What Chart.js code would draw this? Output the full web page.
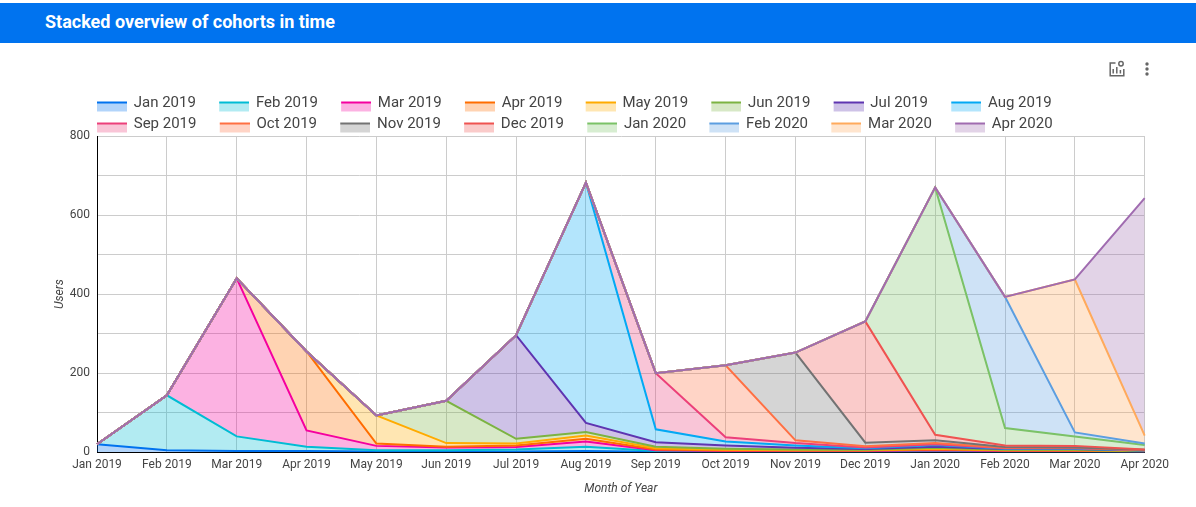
<!DOCTYPE html>
<html>
<head>
<meta charset="utf-8">
<style>
html,body{margin:0;padding:0;background:#fff;width:1196px;height:507px;overflow:hidden;font-family:Roboto,sans-serif}
#head{position:absolute;left:0;top:3px;width:1196px;height:40px;background:#0073ef;color:#fff;font:700 18px/38px Roboto,sans-serif;box-sizing:border-box;padding-left:45px}
#wrap{position:absolute;left:0;top:0;width:1175px;height:507px}
#icons{position:absolute;left:1108px;top:60px;z-index:2}
</style>
<script src="https://cdn.jsdelivr.net/npm/chart.js@4"></script>
</head>
<body>
<div id="head">Stacked overview of cohorts in time</div>
<svg id="icons" width="46" height="18" viewBox="0 0 46 18">
  <path d="M7.5 3H2.2v12.8h13.6V9" fill="none" stroke="#666" stroke-width="1.5"/>
  <path d="M5.2 9v4.5M8.8 7v6.5M12.4 10v3.5" stroke="#666" stroke-width="1.5"/>
  <circle cx="13" cy="3.8" r="2.2" fill="none" stroke="#666" stroke-width="1.5"/>
  <circle cx="39" cy="4" r="1.7" fill="#666"/><circle cx="39" cy="9" r="1.7" fill="#666"/><circle cx="39" cy="14" r="1.7" fill="#666"/>
</svg>
<div id="wrap"><canvas id="c"></canvas></div>
<script>
const months = ["Jan 2019","Feb 2019","Mar 2019","Apr 2019","May 2019","Jun 2019","Jul 2019","Aug 2019","Sep 2019","Oct 2019","Nov 2019","Dec 2019","Jan 2020","Feb 2020","Mar 2020","Apr 2020"];
const jan2019 = [20,5,3,3,2,2,2,3,1,1,1,1,2,1,1,0];
const feb2019 = [0,139,37,11,3,3,5,11,2,1,1,1,1,1,1,1];
const mar2019 = [0,0,400,41,11,7,6,13,2,1,1,1,2,1,1,1];
const apr2019 = [0,0,0,200,6,2,4,7,2,1,1,1,2,1,1,0];
const may2019 = [0,0,0,0,71,9,5,8,3,2,1,1,2,1,1,1];
const jun2019 = [0,0,0,0,0,107,12,9,4,3,2,1,2,1,1,0];
const jul2019 = [0,0,0,0,0,0,262,23,11,8,4,2,3,2,2,1];
const aug2019 = [0,0,0,0,0,0,0,608,33,10,6,2,4,1,1,0];
const sep2019 = [0,0,0,0,0,0,0,0,142,11,6,2,2,1,1,1];
const oct2019 = [0,0,0,0,0,0,0,0,0,182,7,3,3,1,1,0];
const nov2019 = [0,0,0,0,0,0,0,0,0,0,222,9,7,2,1,1];
const dec2019 = [0,0,0,0,0,0,0,0,0,0,0,307,14,4,4,1];
const jan2020 = [0,0,0,0,0,0,0,0,0,0,0,0,626,44,24,11];
const feb2020 = [0,0,0,0,0,0,0,0,0,0,0,0,0,332,10,4];
const mar2020 = [0,0,0,0,0,0,0,0,0,0,0,0,0,0,387,20];
const apr2020 = [0,0,0,0,0,0,0,0,0,0,0,0,0,0,0,601];
const seriesValues = [jan2019,feb2019,mar2019,apr2019,may2019,jun2019,jul2019,aug2019,sep2019,oct2019,nov2019,dec2019,jan2020,feb2020,mar2020,apr2020];
const colors = ["#0072ef","#00bcd4","#f5009f","#ff6d00","#ffab00","#7cb342","#5e35b1","#03a9f4","#ec407a","#ff7043","#737373","#ef5350","#7bc267","#5c9ee0","#ffaa5c","#a06cb0"];

function alpha(hex,a){const n=parseInt(hex.slice(1),16);return `rgba(${n>>16},${(n>>8)&255},${n&255},${a})`;}
function swatch(col){
  const cv=document.createElement('canvas');cv.width=48;cv.height=20;
  const g=cv.getContext('2d');
  g.fillStyle=alpha(col,.3);g.fillRect(18,8,30,10);
  g.fillStyle=col;g.fillRect(18,8,30,2);
  return cv;
}
const drawOrder={
  id:'drawOrder',
  afterLayout(chart){
    const l=chart.legend;const w=l.right-l.left;
    l.left=73.75;l.right=73.75+w;l.top=90;
  },
  beforeDatasetsDraw(chart){
    const metas=chart.getSortedVisibleDatasetMetas();
    for(const m of metas) chart._drawDataset(m);
    return false;
  }
};
new Chart(document.getElementById('c'),{
  type:'line',
  data:{labels:months,datasets:seriesValues.map((v,i)=>({
    label:months[i],data:v,borderColor:colors[i],backgroundColor:alpha(colors[i],.3),
    borderWidth:2,pointRadius:0,tension:0,fill:i===0?'origin':'-1',borderJoinStyle:'miter'
  }))},
  plugins:[drawOrder],
  options:{
    responsive:true,maintainAspectRatio:false,animation:false,
    layout:{padding:{left:53,top:84,right:0,bottom:11}},
    plugins:{
      filler:{drawTime:'beforeDatasetsDraw'},
      tooltip:{enabled:false},
      legend:{
        position:'top',align:'start',fullSize:false,
        labels:{
          font:{family:'Roboto',size:15},color:'#444',padding:6,usePointStyle:true,pointStyleWidth:46.5,boxHeight:12,
          generateLabels(chart){return chart.data.datasets.map((d,i)=>({text:d.label,pointStyle:swatch(colors[i]),datasetIndex:i,fontColor:'#444',lineWidth:0,strokeStyle:'transparent',fillStyle:'transparent'}));}
        }
      }
    },
    scales:{
      x:{
        type:'category',offset:false,
        grid:{color:'#ccc',lineWidth:1,drawTicks:false},
        border:{color:'#000',width:1},
        ticks:{font:{family:'Roboto',size:12},color:'#444',maxRotation:0,minRotation:0,autoSkip:false,padding:6},
        title:{display:true,text:'Month of Year',font:{family:'Roboto',size:12,style:'italic'},color:'#444',padding:{top:3,bottom:0}}
      },
      y:{
        stacked:true,min:0,max:800,
        afterFit(s){s.width=44;},
        grid:{color:'#ccc',lineWidth:1,drawTicks:false},
        border:{color:'#000',width:1},
        ticks:{stepSize:100,font:{family:'Roboto',size:12},color:'#444',padding:7,autoSkip:false,callback:v=>v%200===0?String(v):''},
        title:{display:true,text:'Users',font:{family:'Roboto',size:12,style:'italic'},color:'#444',padding:0}
      }
    }
  }
});
</script>
</body>
</html>
